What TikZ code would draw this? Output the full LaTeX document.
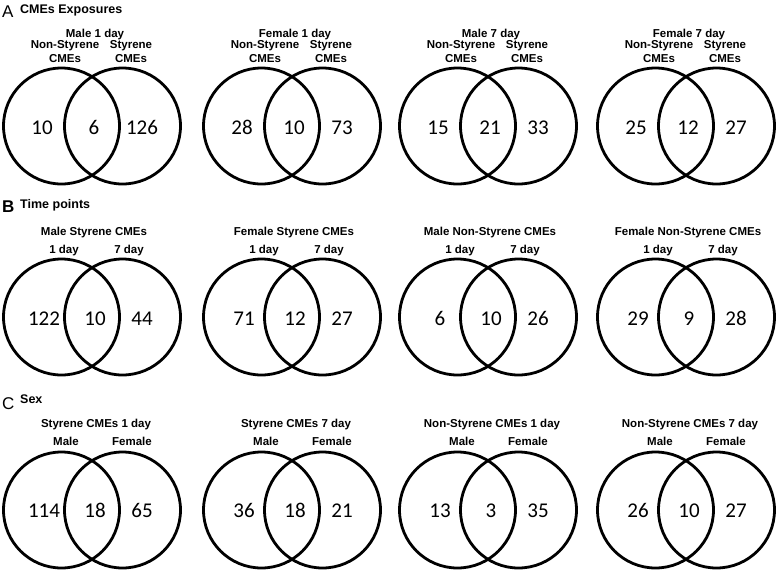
\documentclass[tikz,border=0pt]{standalone}
\usepackage{fontspec}
\setmainfont{Liberation Sans}
\newfontfamily\numfont{Carlito}
\begin{document}
\begin{tikzpicture}[x=1pt, y=-1pt,
    ring/.style={circle, draw=black, line width=2.8pt, minimum size=116pt, inner sep=0pt},
    count/.style={anchor=base, font=\numfont\fontsize{21}{24}\selectfont},
    setlbl/.style={anchor=south, align=center, text depth=0pt, inner sep=0pt, font=\bfseries\fontsize{11.5}{14.5}\selectfont},
    vtitle/.style={anchor=base, inner sep=0pt, font=\bfseries\fontsize{11.5}{14}\selectfont},
    head/.style={anchor=base west, inner sep=0pt, font=\bfseries\fontsize{12.5}{15}\selectfont},
    letter/.style={anchor=base west, inner sep=0pt, font=\fontsize{17}{20}\selectfont}
]
    \useasboundingbox (0,0) rectangle (780,571);

    % A : expositions
    \node[letter] (lA) at (2,17) {A};
    \node[head] (hA) at (20,13) {CMEs Exposures};
    \foreach \mx/\hd/\na/\nb/\nc [count=\i] in {92/Male 1 day/10/6/126, 292/Female 1 day/28/10/73, 488/Male 7 day/15/21/33, 686/Female 7 day/25/12/27}{
        \node[ring] (al\i) at (\mx-30.5,126) {};
        \node[ring] (ar\i) at (\mx+30.5,126) {};
        \node[setlbl] (asl\i) at (\mx-27,63) {Non-Styrene\\CMEs};
        \node[setlbl] (asr\i) at (\mx+39,63) {Styrene\\CMEs};
        \node[vtitle] (at\i) at (\mx+3,37) {\hd};
        \node[count] (an\i) at (\mx-50,134) {\na};
        \node[count] (ab\i) at (\mx+2,134) {\nb};
        \node[count] (ac\i) at (\mx+50,134) {\nc};
    }

    % B : temps
    \node[letter, font=\bfseries\fontsize{17}{20}\selectfont] (lB) at (2,212) {B};
    \node[head] (hB) at (20,208) {Time points};
    \foreach \mx/\hd/\na/\nb/\nc [count=\i] in {92/Male Styrene CMEs/122/10/44, 292/Female Styrene CMEs/71/12/27, 488/Male Non-Styrene CMEs/6/10/26, 686/Female Non-Styrene CMEs/29/9/28}{
        \node[ring] (bl\i) at (\mx-30.5,317) {};
        \node[ring] (br\i) at (\mx+30.5,317) {};
        \node[setlbl] (bsl\i) at (\mx-28,254) {1 day};
        \node[setlbl] (bsr\i) at (\mx+37,254) {7 day};
        \node[vtitle] (bt\i) at (\mx+2,235) {\hd};
        \node[count] (bn\i) at (\mx-48,325) {\na};
        \node[count] (bb\i) at (\mx+3,325) {\nb};
        \node[count] (bc\i) at (\mx+50,325) {\nc};
    }

    % C : sexe
    \node[letter] (lC) at (2,409) {C};
    \node[head] (hC) at (20,403) {Sex};
    \foreach \mx/\hd/\na/\nb/\nc [count=\i] in {92/Styrene CMEs 1 day/114/18/65, 292/Styrene CMEs 7 day/36/18/21, 488/Non-Styrene CMEs 1 day/13/3/35, 686/Non-Styrene CMEs 7 day/26/10/27}{
        \node[ring] (cl\i) at (\mx-30.5,510) {};
        \node[ring] (cr\i) at (\mx+30.5,510) {};
        \node[setlbl] (csl\i) at (\mx-26,446) {Male};
        \node[setlbl] (csr\i) at (\mx+40,446) {Female};
        \node[vtitle] (ct\i) at (\mx+4,427) {\hd};
        \node[count] (cn\i) at (\mx-48,517) {\na};
        \node[count] (cb\i) at (\mx+3,517) {\nb};
        \node[count] (cc\i) at (\mx+50,517) {\nc};
    }
\end{tikzpicture}
\end{document}
